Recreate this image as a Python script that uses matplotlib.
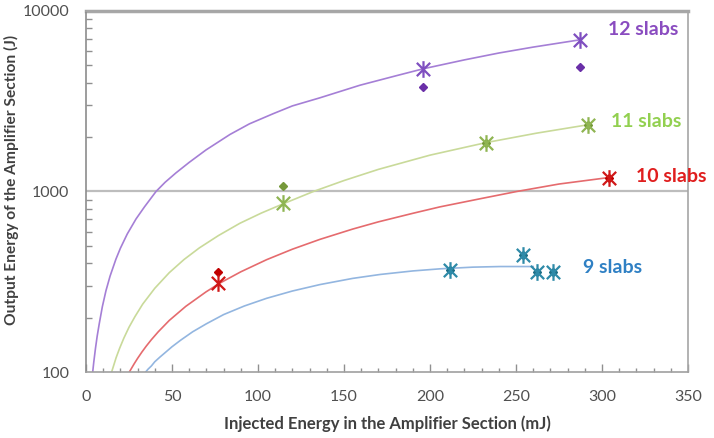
import matplotlib
matplotlib.use("Agg")
import matplotlib.pyplot as plt
from matplotlib.path import Path
from matplotlib.ticker import FixedLocator, NullFormatter

# ---- trend curves ----
c12_x = [3.9, 4.5, 5.5, 6.5, 7.7, 9.5, 11.6, 14, 17.4, 20, 24, 29.1, 34, 40.7, 46, 52.3, 60, 69.8,
         83.7, 95, 108.9, 120, 136, 159.3, 180, 196, 220, 240, 260, 287]
c12_y = [100, 113, 135, 158, 185, 230, 282, 340, 422, 485, 582, 705, 822, 1000, 1125, 1268, 1450, 1700,
         2070, 2370, 2700, 2980, 3304, 3880, 4370, 4783, 5360, 5850, 6310, 6920]

c11_x = [14.9, 16, 17.5, 19.5, 22, 25, 28.5, 33, 40, 48.4, 57, 65.9, 77, 89.5, 102, 114.7, 132.2,
         150, 170, 200, 232.6, 262, 292]
c11_y = [100, 108, 120, 135, 154, 177, 203, 238, 291, 355, 420, 487, 570, 667, 760, 855, 1000,
         1150, 1326, 1590, 1866, 2105, 2344]

c10_x = [25.2, 26.5, 28, 30, 32.5, 35, 38, 42, 48.4, 58, 69.8, 77.9, 90, 105, 120, 136, 155, 170,
         190, 205.8, 230, 250.4, 275, 304]
c10_y = [100, 105, 111, 119, 129, 139, 151, 167, 193, 231, 278, 311, 359, 419, 479, 543, 619, 679,
         757, 822, 915, 1000, 1100, 1195]

c9_x = [34.7, 36, 38, 40, 43, 46, 50, 55, 62, 70, 80, 92, 105, 120, 136, 155, 171, 190, 206, 225,
        241, 260]
c9_y = [100, 103.5, 108, 114, 121, 128, 138, 150, 167, 185, 208, 232, 256, 281, 305, 330, 347, 363,
        373, 381, 384, 384]

# ---- star markers ----
s12_x = [196, 287]
s12_y = [4783, 6920]
s11_x = [114.5, 232.6, 292]
s11_y = [859, 1866, 2344]
s10_x = [76.9, 304]
s10_y = [311, 1195]
s9_x = [211.6, 254, 262.2, 271.5]
s9_y = [367, 443, 357, 360]

# ---- diamond markers ----
d12_x = [196, 287]
d12_y = [3800, 4910]
d11_x = [114.5, 232.6, 292]
d11_y = [1067, 1866, 2344]
d10_x = [76.9, 304]
d10_y = [357, 1195]
d9_x = [211.6, 254, 262.2, 271.5]
d9_y = [367, 443, 357, 360]

labels = ["12 slabs", "11 slabs", "10 slabs", "9 slabs"]
label_x = [303.5, 305, 319.8, 289]
label_y = [7940, 2440, 1210, 380]

xticks = [0, 50, 100, 150, 200, 250, 300, 350]
yticks = [100, 1000, 10000]

star = Path([(-1, -1), (1, 1), (-1, 1), (1, -1), (0, -1.25), (0, 1.25)],
            [Path.MOVETO, Path.LINETO, Path.MOVETO, Path.LINETO, Path.MOVETO, Path.LINETO])

fig = plt.figure(figsize=(7.14, 4.38), dpi=100)
ax = fig.add_axes([86/714, 1-372/438, (688-86)/714, (372-11)/438])
ax.set_yscale('log')
ax.set_xlim(0, 350)
ax.set_ylim(100, 10000)

line_cols = ['#A57FD6', '#C9DA9A', '#E56B6E', '#93B6E0']
star_cols = ['#7F4FC0', '#8FB552', '#D01818', '#2E8AA8']
dia_cols = ['#6A2FA8', '#76993A', '#C00000', '#1F6F86']
text_cols = ['#8A4CC0', '#92D050', '#E01E1E', '#2F80C4']

curves = [(c12_x, c12_y), (c11_x, c11_y), (c10_x, c10_y), (c9_x, c9_y)]
stars = [(s12_x, s12_y), (s11_x, s11_y), (s10_x, s10_y), (s9_x, s9_y)]
dias = [(d12_x, d12_y), (d11_x, d11_y), (d10_x, d10_y), (d9_x, d9_y)]

ax.axhline(1000, color='#BDBDBD', lw=1.6, zorder=1)
ax.axhline(10000, color='#A8A8A8', lw=2.5, zorder=1, clip_on=False)

for i in range(4):
    ax.plot(curves[i][0], curves[i][1], color=line_cols[i], lw=1.2, zorder=2)
    ax.plot(dias[i][0], dias[i][1], ls='none', marker='D', ms=4.5,
            color=dia_cols[i], zorder=3)
    ax.plot(stars[i][0], stars[i][1], ls='none', marker=star, ms=12,
            mew=1.6, mec=star_cols[i], mfc='none', zorder=4)
    ax.text(label_x[i], label_y[i], labels[i], color=text_cols[i],
            fontsize=14, fontweight='bold', family='Lato',
            ha='left', va='center', zorder=5, clip_on=False)

for s in ['left', 'bottom', 'right', 'top']:
    ax.spines[s].set_color('#A6A6A6')
    ax.spines[s].set_linewidth(1.2)
ax.spines['left'].set_color('#8C8C8C')
ax.spines['bottom'].set_color('#A0A0A0')

ax.xaxis.set_major_locator(FixedLocator(xticks))
ax.xaxis.set_minor_locator(FixedLocator([v for v in range(0, 351, 10)]))
ax.yaxis.set_major_locator(FixedLocator(yticks))
ax.yaxis.set_minor_locator(FixedLocator([k * 10**e for e in (2, 3) for k in range(2, 10)]))
ax.yaxis.set_minor_formatter(NullFormatter())
ax.set_xticklabels([str(v) for v in xticks])
ax.set_yticklabels([str(v) for v in yticks])

ax.tick_params(axis='both', which='both', direction='in', color='#909090')
ax.tick_params(axis='x', which='major', length=6, width=1, pad=13,
               labelsize=11.5, labelcolor='#505050')
ax.tick_params(axis='x', which='minor', length=3, width=1)
ax.tick_params(axis='y', which='major', length=0, pad=12,
               labelsize=11.5, labelcolor='#505050')
ax.tick_params(axis='y', which='minor', length=4, width=1)
for lab in ax.get_xticklabels() + ax.get_yticklabels():
    lab.set_family('Lato')

ax.set_xlabel('Injected Energy in the Amplifier Section (mJ)', fontsize=12,
              fontweight='bold', color='#404040', family='Lato', labelpad=8)
fig.text(11/714, 1-180/438, 'Output Energy of the Amplifier Section (J)', fontsize=11.2,
         fontweight='bold', color='#404040', family='Lato', rotation=90,
         ha='center', va='center')

fig.savefig('out.png', dpi=100)
